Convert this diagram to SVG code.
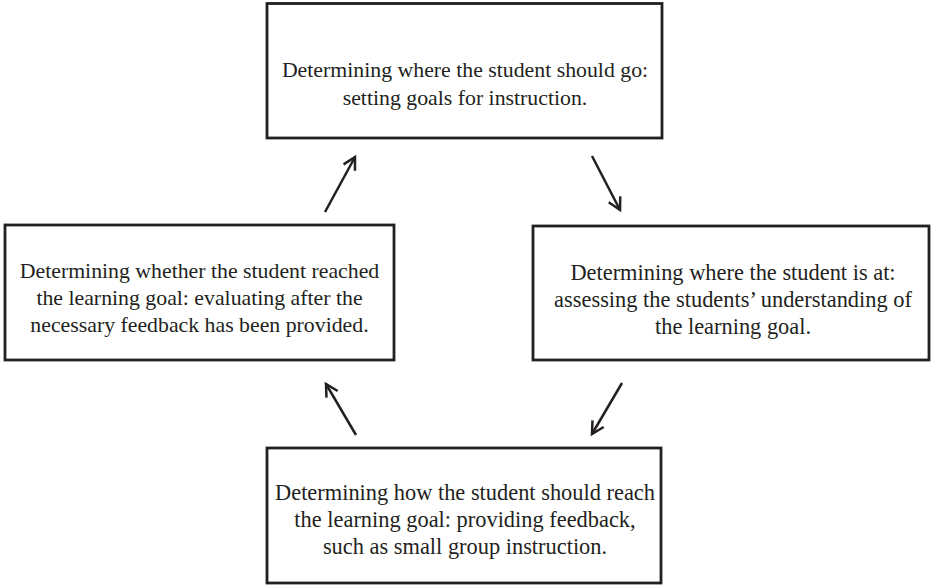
<svg xmlns="http://www.w3.org/2000/svg" width="932" height="586" viewBox="0 0 932 586">
<defs>
<style>
.box{fill:#fff;stroke:#231f20;stroke-width:2.8}
.lbl{font-family:"Liberation Serif","Times New Roman",serif;font-size:21.8px;fill:#231f20;text-anchor:middle}
.lg{font-size:22.4px}
.conn{stroke:#231f20;stroke-width:2.5;fill:none;marker-end:url(#arr)}
</style>
<marker id="arr" markerUnits="userSpaceOnUse" markerWidth="30" markerHeight="30" orient="auto" refX="0" refY="0" overflow="visible" viewBox="-15 -15 30 30">
<path d="M-12,-6.5 L0,0 L-12,6.5" fill="none" stroke="#231f20" stroke-width="2.5"/>
</marker>
</defs>
<rect width="932" height="586" fill="#fff"/>
<g id="connectors">
<line class="conn" x1="325" y1="212" x2="355" y2="157"/>
<line class="conn" x1="592" y1="156" x2="620" y2="210"/>
<line class="conn" x1="622" y1="383" x2="592" y2="434"/>
<line class="conn" x1="356" y1="435" x2="326" y2="384"/>
</g>
<g id="node-top">
<rect class="box" x="267" y="3.5" width="395" height="134.5"/>
<text class="lbl" x="465" y="77">Determining where the student should go:</text>
<text class="lbl" x="465" y="105">setting goals for instruction.</text>
</g>
<g id="node-left">
<rect class="box" x="5" y="225" width="389" height="135"/>
<text class="lbl" x="199.5" y="278">Determining whether the student reached</text>
<text class="lbl" x="199.5" y="305">the learning goal: evaluating after the</text>
<text class="lbl" x="199.5" y="332">necessary feedback has been provided.</text>
</g>
<g id="node-right">
<rect class="box" x="533" y="226" width="396" height="134"/>
<text class="lbl lg" x="733" y="280">Determining where the student is at:</text>
<text class="lbl lg" x="733" y="307">assessing the students’ understanding of</text>
<text class="lbl lg" x="733" y="334">the learning goal.</text>
</g>
<g id="node-bottom">
<rect class="box" x="267" y="448" width="394" height="135"/>
<text class="lbl lg" x="465" y="500">Determining how the student should reach</text>
<text class="lbl lg" x="465" y="527">the learning goal: providing feedback,</text>
<text class="lbl lg" x="465" y="554">such as small group instruction.</text>
</g>
</svg>
